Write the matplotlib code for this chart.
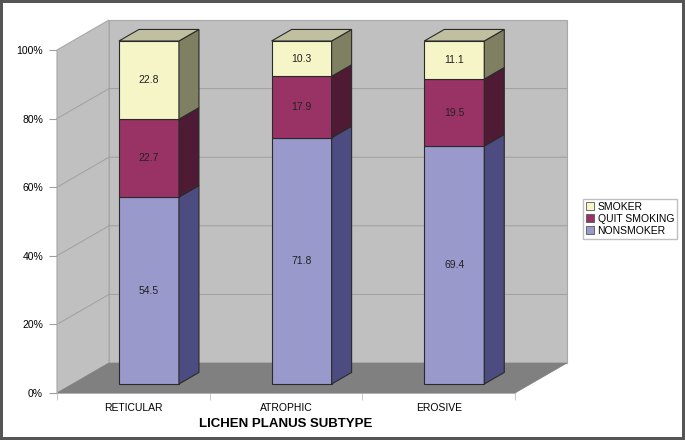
import matplotlib.pyplot as plt
from matplotlib.patches import Polygon, Rectangle

plt.rcParams['font.family'] = ['Liberation Sans', 'DejaVu Sans']

categories = ["RETICULAR", "ATROPHIC", "EROSIVE"]
nonsmoker = [54.5, 71.8, 69.4]
quit_smoking = [22.7, 17.9, 19.5]
smoker = [22.8, 10.3, 11.1]
series_names = ["NONSMOKER", "QUIT SMOKING", "SMOKER"]
y_ticks = [0, 20, 40, 60, 80, 100]
y_labels = ["0%", "20%", "40%", "60%", "80%", "100%"]

front_colors = ["#9999cc", "#993366", "#f5f5c8"]
side_colors = ["#4c4c80", "#4f1a33", "#7f7f62"]
top_color = "#c0c0a0"
edge = "#2a2a2a"

fig = plt.figure(figsize=(6.85, 4.40), dpi=100)
ax = fig.add_axes([57 / 685, 1 - 393 / 440, 458 / 685, 343 / 440])
ax.set_xlim(-0.5, 2.5)
ax.set_ylim(0, 100)

# depth of the 3d box, pixel -> data units
xs = 3 / 458
ys = 100 / 343
ddx = 52 * xs
ddy = 30 * ys
f0, f1 = 0.30, 0.685
width = 60 * xs

# walls and floor
x0, x1 = -0.5, 2.5
back = Polygon([(x0 + ddx, ddy), (x1 + ddx, ddy), (x1 + ddx, 100 + ddy), (x0 + ddx, 100 + ddy)],
               closed=True, fc="#c0c0c0", ec="#a8a8a8", lw=0.8, clip_on=False, zorder=1)
left = Polygon([(x0, 0), (x0 + ddx, ddy), (x0 + ddx, 100 + ddy), (x0, 100)],
               closed=True, fc="#c0c0c0", ec="#a8a8a8", lw=0.8, clip_on=False, zorder=1)
floor = Polygon([(x0, 0), (x1, 0), (x1 + ddx, ddy), (x0 + ddx, ddy)],
                closed=True, fc="#808080", ec="#808080", lw=0.5, clip_on=False, zorder=2)
for p in (back, left, floor):
    ax.add_patch(p)

for t in y_ticks[1:-1]:
    ax.plot([x0, x0 + ddx, x1 + ddx], [t, t + ddy, t + ddy], color="#a0a0a0", lw=0.7,
            clip_on=False, zorder=1.5)

# stacked bars with side and top faces
series = [nonsmoker, quit_smoking, smoker]
xpos = list(range(len(categories)))
bottoms = [0] * len(categories)
for s, vals in enumerate(series):
    ax.bar([x + f0 * ddx for x in xpos], vals, width=width,
           bottom=[b + f0 * ddy for b in bottoms],
           color=front_colors[s], edgecolor=edge, linewidth=0.8, zorder=5, clip_on=False)
    for i, v in enumerate(vals):
        xr = xpos[i] + f0 * ddx + width / 2
        b = bottoms[i] + f0 * ddy
        t = b + v
        dx = (f1 - f0) * ddx
        dy = (f1 - f0) * ddy
        side = Polygon([(xr, b), (xr + dx, b + dy), (xr + dx, t + dy), (xr, t)], closed=True,
                       fc=side_colors[s], ec=edge, lw=0.8, zorder=5, clip_on=False)
        ax.add_patch(side)
        if s == len(series) - 1:
            xl = xr - width
            top = Polygon([(xl, t), (xr, t), (xr + dx, t + dy), (xl + dx, t + dy)], closed=True,
                          fc=top_color, ec=edge, lw=0.8, zorder=5, clip_on=False)
            ax.add_patch(top)
        ax.text(xpos[i] + f0 * ddx, b + v / 2, f"{v:.1f}", ha="center", va="center",
                fontsize=7.5, color="#222222", zorder=6)
        bottoms[i] += v

# axes styling
for sp in ("top", "right"):
    ax.spines[sp].set_visible(False)
for sp in ("left", "bottom"):
    ax.spines[sp].set_color("#b0b0b0")
    ax.spines[sp].set_linewidth(0.7)
    ax.spines[sp].set_zorder(3)
ax.set_facecolor("none")
ax.set_yticks(y_ticks)
ax.set_yticklabels(y_labels, fontsize=7.5)
ax.tick_params(axis="y", length=6, color="#a0a0a0", pad=4)
ax.set_xticks(xpos)
ax.set_xticklabels(categories, fontsize=7.5)
ax.tick_params(axis="x", which="major", length=0, pad=7)
ax.set_xticks([-0.5, 0.5, 1.5, 2.5], minor=True)
ax.tick_params(axis="x", which="minor", length=5, color="#c0c0c0")
ax.set_xlabel("LICHEN PLANUS SUBTYPE", fontsize=9.5, fontweight="bold", labelpad=4)

handles = [Rectangle((0, 0), 1, 1, fc=front_colors[k], ec="#555555", lw=0.6) for k in (2, 1, 0)]
fig.legend(handles, [series_names[k] for k in (2, 1, 0)], loc="center left",
           bbox_to_anchor=(583 / 685, 1 - 219 / 440), fontsize=7.5, frameon=True,
           fancybox=False, edgecolor="#b0b0b0", handlelength=0.8, handleheight=0.8,
           handletextpad=0.3, borderpad=0.3, labelspacing=0.2, borderaxespad=0)

fig.patch.set_edgecolor("#555555")
fig.patch.set_linewidth(4)

fig.savefig("out.png", dpi=100)
